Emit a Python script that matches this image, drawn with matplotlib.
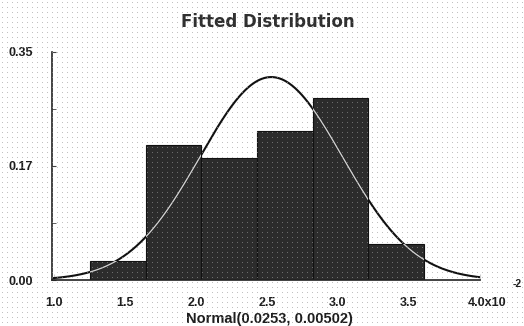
import numpy as np
import matplotlib
matplotlib.use("Agg")
import matplotlib.pyplot as plt
import matplotlib.transforms as mtransforms

# ── data (x in units of 10^-2) ────────────────────────────────────────────────
bin_edges = [1.254, 1.646, 2.038, 2.430, 2.822, 3.214, 3.606]
rel_freq = [0.029, 0.207, 0.187, 0.229, 0.279, 0.055]
fit_mu, fit_sigma = 2.53, 0.502          # Normal(0.0253, 0.00502)
x_ticks = [1.0, 1.5, 2.0, 2.5, 3.0, 3.5, 4.0]
x_ticklabels = ["1.0", "1.5", "2.0", "2.5", "3.0", "3.5", "4.0x10"]
y_ticks = [0.0, 0.175, 0.35]
y_ticklabels = ["0.00", "0.17", "0.35"]

BAR = "#2c2c2c"
TXT = "#1e1e1e"
LBL = dict(family="Liberation Sans", weight="bold", size=9, color=TXT)

fig = plt.figure(figsize=(5.24, 3.26), dpi=100, facecolor="white")
ax = fig.add_axes([0.0992, 0.1411, 0.8168, 0.6994])
ax.set_facecolor("none")

# histogram bars
edges = np.array(bin_edges)
widths = np.diff(edges)
bars = ax.bar(edges[:-1], rel_freq, width=widths, align="edge",
              color=BAR, edgecolor="#111111", lw=0.8, zorder=2)

# fitted normal curve, scaled to bin width
bw = widths.mean()
xs = np.linspace(1.0, 4.0, 400)
ys = bw * np.exp(-0.5 * ((xs - fit_mu) / fit_sigma) ** 2) / (fit_sigma * np.sqrt(2 * np.pi))
ax.plot(xs, ys, color="#111111", lw=1.5, zorder=3)
# curve shows light where it crosses the dark bars
for b in bars:
    ln, = ax.plot(xs, ys, color="#d0d0d0", lw=1.0, zorder=4)
    ln.set_clip_path(b)

ax.set_xlim(0.986, 4.0)
ax.set_ylim(0, 0.35)

for s in ["top", "right"]:
    ax.spines[s].set_visible(False)
for s in ["left", "bottom"]:
    ax.spines[s].set_color("#222222")
    ax.spines[s].set_linewidth(1.2)

ax.set_xticks(x_ticks)
ax.set_xticklabels(x_ticklabels, fontdict=LBL)
ax.set_yticks(y_ticks)
ax.set_yticklabels(y_ticklabels, fontdict=LBL)
ax.set_yticks([0.0875, 0.2625], minor=True)
ax.tick_params(axis="x", direction="in", length=4, color="#cccccc", pad=12)
ax.tick_params(axis="y", which="both", direction="in", length=3, color="#444444",
               pad=14)

# last tick label starts at the tick (as "4.0" + "x10")
last = ax.get_xticklabels()[-1]
last.set_ha("left")
last.set_transform(last.get_transform()
                   + mtransforms.ScaledTranslation(-12 / 100, 0, fig.dpi_scale_trans))
fig.text(513 / 524, 1 - 284 / 326, "-2", fontsize=7.5, fontweight="bold",
         family="Liberation Sans", color=TXT, ha="left", va="center")

fig.text(268 / 524, 1 - 22 / 326, "Fitted Distribution", fontsize=12,
         fontweight="bold", family="DejaVu Sans", color="#303030",
         ha="center", va="center")
fig.text(269 / 524, 1 - 319 / 326, "Normal(0.0253, 0.00502)", fontsize=10.5,
         fontweight="bold", family="Liberation Sans", color=TXT,
         ha="center", va="center")

# scanned dot-screen texture over the whole picture
W, H = 524, 326
tex = np.zeros((H, W, 4))
tex[2::5, 2::5, :3] = 0.6
tex[2::5, 2::5, 3] = 0.6
bg = fig.add_axes([0, 0, 1, 1], zorder=10)
bg.imshow(tex, interpolation="nearest", aspect="auto")
bg.axis("off")

fig.savefig("out.png", dpi=100)
